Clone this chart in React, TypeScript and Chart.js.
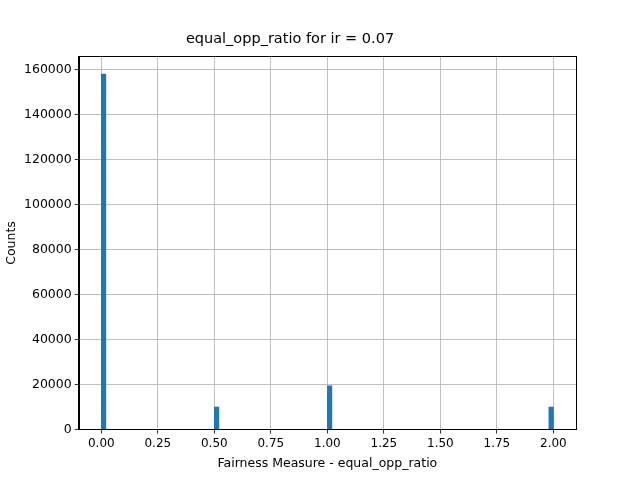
import { useEffect, useRef } from "react";
import { Chart, registerables } from "chart.js";

Chart.register(...registerables);

// histogram: 100 bins of width 0.02 over [0, 2]
const binStart = 0;
const binWidth = 0.02;
const binCount = 100;
// non-empty bins: index -> count
const filledBins = [0, 25, 50, 99];
const filledCounts = [158000, 10000, 19500, 10000];

const xTicks = [0, 0.25, 0.5, 0.75, 1.0, 1.25, 1.5, 1.75, 2.0];
const yTicks = [0, 20000, 40000, 60000, 80000, 100000, 120000, 140000, 160000];

const font = "'DejaVu Sans', sans-serif";

// matplotlib-style frame round the plot area
const framePlugin = {
  id: "frame",
  afterDraw(chart: any) {
    const { ctx, chartArea: a } = chart;
    ctx.save();
    ctx.strokeStyle = "#000";
    ctx.lineWidth = 1;
    ctx.strokeRect(Math.round(a.left) + 0.5, Math.round(a.top) + 0.5, Math.round(a.right - a.left), Math.round(a.bottom - a.top));
    ctx.restore();
  },
};

export default function App() {
  const canvasRef = useRef<HTMLCanvasElement>(null);

  useEffect(() => {
    document.body.style.margin = "0";
    if (!canvasRef.current) return;
    const points = [];
    for (let i = 0; i < binCount; i++) {
      const k = filledBins.indexOf(i);
      points.push({ x: binStart + (i + 0.5) * binWidth, y: k >= 0 ? filledCounts[k] : 0 });
    }
    const axisCommon = {
      border: { display: true, color: "#000", width: 1 },
      grid: { color: "#b0b0b0", tickColor: "#000", tickLength: 4, lineWidth: 0.8, offset: false },
    };
    const chart = new Chart(canvasRef.current, {
      type: "bar",
      data: {
        datasets: [
          {
            data: points,
            backgroundColor: "#1f77b4",
            barPercentage: 1,
            categoryPercentage: 1,
          },
        ],
      },
      options: {
        responsive: false,
        animation: false,
        layout: { padding: { left: 4, right: 64, top: 31, bottom: 9 } },
        plugins: {
          legend: { display: false },
          tooltip: { enabled: false },
          title: {
            display: true,
            text: "equal_opp_ratio for ir = 0.07",
            color: "#000",
            font: { family: font, size: 14.5, weight: "normal" },
            padding: { top: 0, bottom: 8 },
          },
        },
        scales: {
          x: {
            type: "linear",
            offset: false,
            min: -0.1,
            max: 2.1,
            ...axisCommon,
            afterBuildTicks: (axis: any) => {
              axis.ticks = xTicks.map((v) => ({ value: v }));
            },
            ticks: {
              color: "#000",
              font: { family: font, size: 12 },
              maxRotation: 0,
              autoSkip: false,
              callback: (v: any) => Number(v).toFixed(2),
            },
            title: {
              display: true,
              text: "Fairness Measure - equal_opp_ratio",
              color: "#000",
              font: { family: font, size: 12.5 },
              padding: { top: 2, bottom: 0 },
            },
          },
          y: {
            min: 0,
            max: 165900,
            ...axisCommon,
            afterBuildTicks: (axis: any) => {
              axis.ticks = yTicks.map((v) => ({ value: v }));
            },
            ticks: {
              color: "#000",
              font: { family: font, size: 12.5 },
              callback: (v: any) => String(v),
            },
            title: {
              display: true,
              text: "Counts",
              color: "#000",
              font: { family: font, size: 12.5 },
              padding: { top: 0, bottom: 2 },
            },
          },
        },
      },
      plugins: [framePlugin],
    } as any);
    return () => chart.destroy();
  }, []);

  return (
    <div style={{ width: 640, height: 480 }}>
      <canvas ref={canvasRef} width={640} height={480} />
    </div>
  );
}
